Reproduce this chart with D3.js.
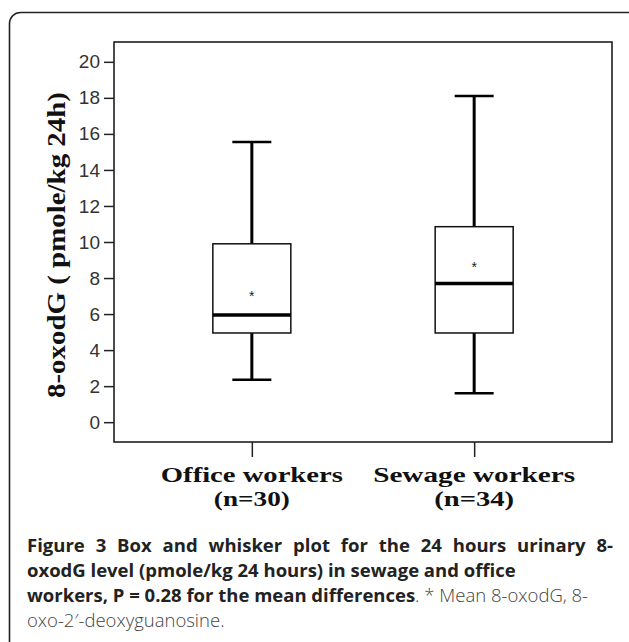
<!DOCTYPE html>
<html>
<head>
<meta charset="utf-8">
<script src="https://cdn.jsdelivr.net/npm/d3@7"></script>
<style>
  body { margin: 0; background: #fff; }
  svg { display: block; }
</style>
</head>
<body>
<svg id="chart" width="629" height="642"></svg>
<script>
// data
const groups = ['Office workers', 'Sewage workers']
const groupN = ['(n=30)', '(n=34)']
const whiskerLow = [2.35, 1.6]
const q1 = [4.95, 4.95]
const median = [5.95, 7.7]
const q3 = [9.9, 10.85]
const whiskerHigh = [15.55, 18.1]
const means = [7.1, 8.75]
const yTicks = [0, 2, 4, 6, 8, 10, 12, 14, 16, 18, 20]
const yTitle = '8-oxodG ( pmole/kg 24h)'

const captionBold1 = 'Figure 3 Box and whisker plot for the 24 hours urinary 8-'
const captionBold2 = 'oxodG level (pmole/kg 24 hours) in sewage and office'
const captionBold3 = 'workers, P = 0.28 for the mean differences'
const captionLight3 = '. * Mean 8-oxodG, 8-'
const captionLight4 = 'oxo-2\u2032-deoxyguanosine.'

const boxes = groups.map((g, i) => ({
  name: g, n: groupN[i], lo: whiskerLow[i], q1: q1[i], med: median[i],
  q3: q3[i], hi: whiskerHigh[i], mean: means[i]
}))

const svg = d3.select('#chart')

// outer rounded frame (runs off the bottom/right of the picture)
svg.append('rect')
  .attr('x', 9.5).attr('y', 12.5)
  .attr('width', 640).attr('height', 660)
  .attr('rx', 11)
  .attr('fill', 'none').attr('stroke', '#222').attr('stroke-width', 1.6)

const plot = { left: 114, right: 612, top: 42, bottom: 442 }

const y = d3.scaleLinear().domain([-1.1, 21.1]).range([plot.bottom, plot.top])
const x = d3.scalePoint().domain(groups).range([plot.left, plot.right]).padding(0.62)
const boxW = 78
const capW = 39

// plot frame
svg.append('rect')
  .attr('x', plot.left).attr('y', plot.top)
  .attr('width', plot.right - plot.left).attr('height', plot.bottom - plot.top)
  .attr('fill', 'none').attr('stroke', '#111').attr('stroke-width', 1.5)

// y axis
const yAxis = svg.append('g')
  .attr('transform', `translate(${plot.left},0)`)
  .call(d3.axisLeft(y).tickValues(yTicks).tickSize(10).tickPadding(4))
yAxis.select('.domain').remove()
yAxis.selectAll('line').attr('stroke', '#222').attr('stroke-width', 1.5)
yAxis.selectAll('text')
  .attr('fill', '#333')
  .style('font-family', 'Liberation Sans, Arial, sans-serif')
  .style('font-size', '19px')

// x axis ticks, labels drawn separately on two lines
const xAxis = svg.append('g')
  .attr('transform', `translate(0,${plot.bottom})`)
  .call(d3.axisBottom(x).tickSize(15).tickFormat(''))
xAxis.select('.domain').remove()
xAxis.selectAll('line').attr('stroke', '#222').attr('stroke-width', 1.5)

const labelWidths = [182, 202]
const nWidths = [76, 80]

const xl = svg.append('g').selectAll('g')
  .data(boxes)
  .enter()
  .append('g')
  .attr('transform', d => `translate(${x(d.name)},0)`)
  .style('font-family', 'Liberation Serif, Times New Roman, serif')
  .style('font-weight', 'bold')
  .style('font-size', '21px')
  .attr('fill', '#111')

xl.append('text')
  .attr('y', 482)
  .attr('text-anchor', 'middle')
  .attr('textLength', (d, i) => labelWidths[i])
  .attr('lengthAdjust', 'spacingAndGlyphs')
  .text(d => d.name)

xl.append('text')
  .attr('y', 506)
  .attr('text-anchor', 'middle')
  .attr('textLength', (d, i) => nWidths[i])
  .attr('lengthAdjust', 'spacingAndGlyphs')
  .text(d => d.n)

// y title
svg.append('text')
  .attr('transform', `translate(65,${(92 + 398) / 2}) rotate(-90)`)
  .attr('text-anchor', 'middle')
  .attr('textLength', 306)
  .attr('lengthAdjust', 'spacingAndGlyphs')
  .style('font-family', 'Liberation Serif, Times New Roman, serif')
  .style('font-weight', 'bold')
  .style('font-size', '25px')
  .attr('fill', '#111')
  .text(yTitle)

// boxes
const bx = svg.append('g').selectAll('g')
  .data(boxes)
  .enter()
  .append('g')
  .attr('transform', d => `translate(${x(d.name)},0)`)

bx.append('line')
  .attr('y1', d => y(d.q3)).attr('y2', d => y(d.hi))
  .attr('stroke', '#000').attr('stroke-width', 3)

bx.append('line')
  .attr('y1', d => y(d.q1)).attr('y2', d => y(d.lo))
  .attr('stroke', '#000').attr('stroke-width', 3)

bx.append('line')
  .attr('x1', -capW / 2).attr('x2', capW / 2)
  .attr('y1', d => y(d.hi)).attr('y2', d => y(d.hi))
  .attr('stroke', '#000').attr('stroke-width', 2.5)

bx.append('line')
  .attr('x1', -capW / 2).attr('x2', capW / 2)
  .attr('y1', d => y(d.lo)).attr('y2', d => y(d.lo))
  .attr('stroke', '#000').attr('stroke-width', 2.5)

bx.append('rect')
  .attr('x', -boxW / 2).attr('width', boxW)
  .attr('y', d => y(d.q3)).attr('height', d => y(d.q1) - y(d.q3))
  .attr('fill', '#fff').attr('stroke', '#111').attr('stroke-width', 1.5)

bx.append('line')
  .attr('x1', -boxW / 2).attr('x2', boxW / 2)
  .attr('y1', d => y(d.med)).attr('y2', d => y(d.med))
  .attr('stroke', '#000').attr('stroke-width', 3.5)

bx.append('text')
  .attr('y', d => y(d.mean) + 7)
  .attr('text-anchor', 'middle')
  .style('font-family', 'Liberation Sans, Arial, sans-serif')
  .style('font-size', '14px')
  .attr('fill', '#222')
  .text('*')

// caption
const capFont = '"Open Sans", sans-serif'
const capSize = '18.5px'
const capX = 27
const capRight = 613

const line1 = svg.append('text')
  .attr('x', capX).attr('y', 552)
  .style('font-family', capFont).style('font-size', capSize)
  .style('font-weight', 'bold').attr('fill', '#222')
  .text(captionBold1)
// justify first line
const natural = line1.node().getComputedTextLength()
const gaps = captionBold1.split(' ').length - 1
line1.attr('word-spacing', (capRight - capX - natural) / gaps)

svg.append('text')
  .attr('x', capX).attr('y', 577)
  .style('font-family', capFont).style('font-size', capSize)
  .style('font-weight', 'bold').attr('fill', '#222')
  .text(captionBold2)

const line3 = svg.append('text')
  .attr('x', capX).attr('y', 602)
  .style('font-family', capFont).style('font-size', capSize)
  .attr('fill', '#222')
line3.append('tspan').style('font-weight', 'bold').text(captionBold3)
line3.append('tspan').style('font-weight', '300').attr('fill', '#444').text(captionLight3)

svg.append('text')
  .attr('x', capX).attr('y', 627)
  .style('font-family', capFont).style('font-size', capSize)
  .style('font-weight', '300').attr('fill', '#444')
  .text(captionLight4)
</script>
</body>
</html>
